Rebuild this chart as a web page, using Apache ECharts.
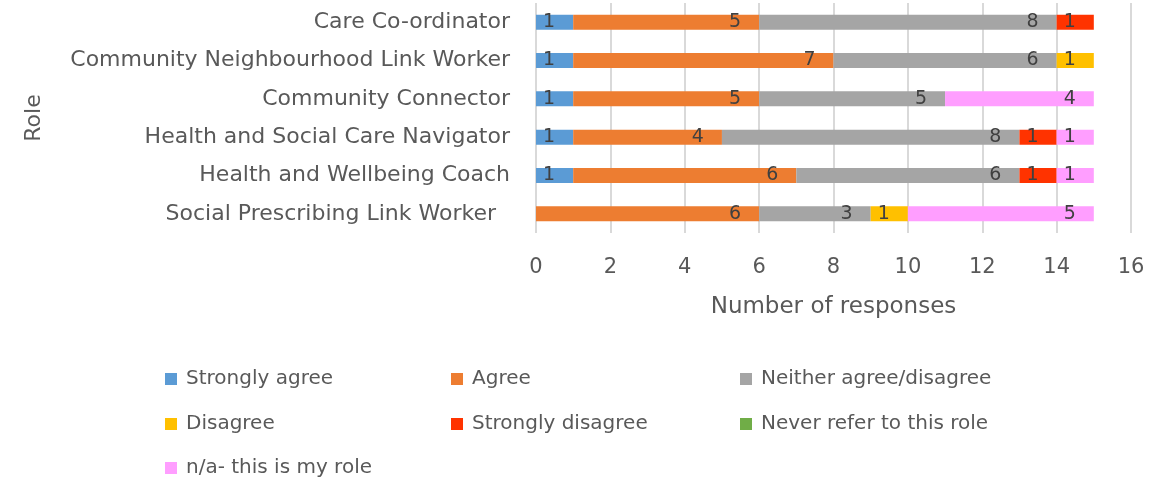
<!DOCTYPE html>
<html>
<head>
<meta charset="utf-8">
<script src="https://cdn.jsdelivr.net/npm/echarts@6/dist/echarts.min.js"></script>
<style>
  html, body { margin: 0; padding: 0; background: #fff; }
  #chart { width: 1170px; height: 481px; }
</style>
</head>
<body>
<div id="chart"></div>
<script>
// roles, top to bottom
var roles = [
    "Care Co-ordinator",
    "Community Neighbourhood Link Worker",
    "Community Connector",
    "Health and Social Care Navigator",
    "Health and Wellbeing Coach",
    "Social Prescribing Link Worker  "
];
var stronglyAgree    = [1, 1, 1, 1, 1, 0];
var agree            = [5, 7, 5, 4, 6, 6];
var neither          = [8, 6, 5, 8, 6, 3];
var disagree         = [0, 1, 0, 0, 0, 1];
var stronglyDisagree = [1, 0, 0, 1, 1, 0];
var neverRefer       = [0, 0, 0, 0, 0, 0];
var notApplicable    = [0, 0, 4, 1, 1, 5];

var seriesNames = ["Strongly agree", "Agree", "Neither agree/disagree", "Disagree",
    "Strongly disagree", "Never refer to this role", "n/a- this is my role"];
var seriesData = [stronglyAgree, agree, neither, disagree, stronglyDisagree, neverRefer, notApplicable];
var colors = ["#5b9bd5", "#ed7d31", "#a5a5a5", "#ffc000", "#ff3300", "#70ad47", "#ff9eff"];

var font = "'DejaVu Sans', sans-serif";
var textColor = "#595959";

var make_series = function (name, data, color) {
    return {
        name: name,
        type: "bar",
        stack: "total",
        barWidth: 15,
        data: data,
        itemStyle: { color: color },
        label: {
            show: true,
            position: "insideRight",
            distance: 18,
            color: "#404040",
            fontSize: 19,
            fontFamily: font,
            formatter: function (p) { return p.value ? String(p.value) : ""; }
        }
    };
};

// one legend box per entry, laid out in a 3-column grid like the original
var legendCols = [160, 446, 735];
var legendRows = [364, 409, 453];
var make_legend = function (name, idx) {
    return {
        left: legendCols[idx % 3],
        top: legendRows[Math.floor(idx / 3)],
        itemWidth: 12,
        itemHeight: 12,
        icon: "rect",
        data: [name],
        textStyle: { color: textColor, fontSize: 20, fontFamily: font, padding: [0, 0, 0, 4] }
    };
};

var series = [];
var legends = [];
for (var i = 0; i < seriesNames.length; i++) {
    series.push(make_series(seriesNames[i], seriesData[i], colors[i]));
    legends.push(make_legend(seriesNames[i], i));
}

var chart = echarts.init(document.getElementById("chart"));
chart.setOption({
    animation: false,
    color: colors,
    grid: { left: 536, right: 39, top: 3, bottom: 248 },
    legend: legends,
    xAxis: {
        type: "value",
        min: 0,
        max: 16,
        interval: 2,
        name: "Number of responses",
        nameLocation: "middle",
        nameGap: 63,
        nameTextStyle: { color: textColor, fontSize: 23, fontFamily: font },
        axisLine: { show: false },
        axisTick: { show: false },
        axisLabel: { color: textColor, fontSize: 21, fontFamily: font, margin: 24 },
        splitLine: { lineStyle: { color: "#d9d9d9", width: 2 } }
    },
    yAxis: {
        type: "category",
        inverse: true,
        data: roles,
        name: "Role",
        nameLocation: "middle",
        nameRotate: 90,
        nameGap: 491,
        nameTextStyle: { color: textColor, fontSize: 22, fontFamily: font },
        axisLine: { show: false },
        axisTick: { show: false },
        axisLabel: { color: textColor, fontSize: 22, fontFamily: font, margin: 26 }
    },
    series: series
});
</script>
</body>
</html>
